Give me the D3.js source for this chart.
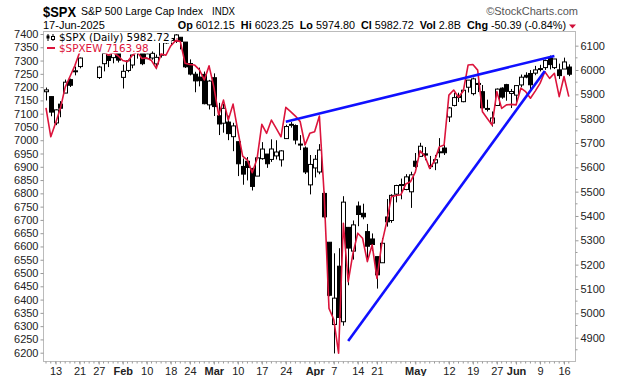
<!DOCTYPE html>
<html lang="en">
<head>
<meta charset="utf-8">
<title>$SPX daily</title>
<script src="https://cdn.jsdelivr.net/npm/d3@7"></script>
<style>
body {margin: 0; background: #fff;}
svg {display: block; font-family: "Liberation Sans", Arial, sans-serif;}
.axis text {font-size: 11px; fill: #222;}
.axis line {stroke: #999;}
</style>
</head>
<body>
<svg width="620" height="376"></svg>
<script>
// trading days, 2025
var dates = ["01-08","01-10","01-13","01-14","01-15","01-16","01-17","01-21","01-22","01-23","01-24","01-27","01-28","01-29","01-30","01-31",
  "02-03","02-04","02-05","02-06","02-07","02-10","02-11","02-12","02-13","02-14","02-18","02-19","02-20","02-21","02-24","02-25","02-26","02-27","02-28",
  "03-03","03-04","03-05","03-06","03-07","03-10","03-11","03-12","03-13","03-14","03-17","03-18","03-19","03-20","03-21","03-24","03-25","03-26","03-27","03-28","03-31",
  "04-01","04-02","04-03","04-04","04-07","04-08","04-09","04-10","04-11","04-14","04-15","04-16","04-17","04-21","04-22","04-23","04-24","04-25","04-28","04-29","04-30",
  "05-01","05-02","05-05","05-06","05-07","05-08","05-09","05-12","05-13","05-14","05-15","05-16","05-19","05-20","05-21","05-22","05-23","05-27","05-28","05-29","05-30",
  "06-02","06-03","06-04","06-05","06-06","06-09","06-10","06-11","06-12","06-13","06-16","06-17"];

var spxOpen = [5910.7,5890.7,5782.3,5859.7,5905.2,5960.4,5994.0,6014.1,6081.4,6076.3,6121.4,5969.0,6026.0,6057.7,6050.8,6096.8,
  5969.7,5998.1,6020.5,6072.2,6083.1,6046.4,6049.3,6025.1,6060.6,6115.5,6121.6,6117.8,6134.5,6114.8,6026.7,5982.7,5970.9,5981.9,5856.7,
  5968.3,5811.9,5781.4,5785.9,5726.0,5705.4,5603.7,5624.8,5594.5,5563.9,5635.6,5654.5,5632.4,5646.9,5630.7,5718.1,5775.1,5771.7,5695.6,5679.4,5527.9,
  5597.5,5580.8,5492.7,5292.1,4953.8,5193.6,4965.3,5353.2,5255.6,5441.0,5411.0,5335.8,5305.5,5232.9,5207.7,5395.9,5381.4,5489.7,5529.2,5508.9,5499.4,
  5625.1,5645.0,5655.3,5605.9,5618.1,5663.2,5679.3,5807.0,5854.3,5886.8,5869.8,5929.1,5902.9,5944.7,5910.9,5841.3,5781.9,5854.1,5925.5,5939.9,5903.7,
  5896.7,5938.6,5978.1,5985.7,5987.1,6004.6,6009.9,6049.4,6009.9,6000.6,6004.0,6012.2];
var spxHigh = [5927.9,5890.7,5838.0,5871.9,5960.6,5964.7,6014.0,6051.5,6100.8,6118.7,6128.2,6017.2,6069.3,6062.8,6086.6,6120.9,
  6022.1,6042.5,6062.9,6084.0,6101.3,6073.4,6076.3,6063.6,6116.9,6127.5,6129.6,6147.4,6134.5,6114.8,6043.7,5992.7,6009.8,5993.7,5959.4,
  5986.1,5865.1,5860.6,5812.1,5783.0,5705.4,5636.3,5642.2,5597.8,5645.3,5703.5,5654.5,5715.3,5711.2,5670.8,5775.1,5786.0,5776.3,5732.3,5685.9,5650.6,
  5650.6,5695.3,5500.4,5292.1,5246.6,5267.5,5481.3,5353.2,5381.5,5459.5,5450.4,5367.2,5328.3,5232.9,5309.6,5469.7,5489.4,5528.1,5553.7,5571.9,5581.8,
  5658.9,5700.7,5683.4,5646.8,5651.0,5720.1,5691.7,5847.0,5906.6,5906.6,5924.6,5958.6,5968.6,5953.1,5938.4,5878.1,5829.5,5924.3,5929.0,5943.1,5922.1,
  5937.4,5981.4,5990.5,5999.7,6016.9,6021.3,6043.0,6059.4,6045.4,6026.2,6050.8,6023.3];
var spxLow = [5874.8,5809.9,5773.3,5805.9,5905.2,5930.1,5978.0,6006.9,6076.1,6074.7,6088.7,5962.9,5994.3,6012.0,6027.5,6030.9,
  5923.9,5990.9,6007.1,6046.8,6019.9,6044.8,6042.3,6003.0,6051.0,6107.6,6099.5,6111.2,6084.6,6008.6,5977.8,5908.5,5932.7,5858.8,5837.7,
  5810.9,5732.6,5742.4,5711.6,5666.3,5564.0,5528.4,5546.1,5504.7,5563.9,5631.1,5597.8,5622.2,5632.3,5603.1,5718.1,5763.2,5694.4,5670.9,5572.4,5488.7,
  5558.5,5571.5,5390.8,5069.9,4835.0,4910.4,4949.0,5115.3,5220.8,5358.0,5386.4,5220.8,5255.6,5101.6,5207.7,5356.2,5371.9,5455.9,5468.6,5505.7,5433.2,
  5597.4,5644.0,5629.1,5593.0,5588.3,5640.1,5650.7,5786.1,5850.4,5868.4,5867.4,5907.4,5895.7,5909.3,5830.9,5829.5,5767.4,5854.1,5881.9,5873.8,5843.7,
  5861.4,5929.0,5966.1,5921.2,5978.6,5994.2,6000.3,6002.3,6003.9,5963.2,6004.0,5974.8];
var spxClose = [5918.3,5827.0,5836.2,5842.9,5949.9,5937.3,5996.7,6049.2,6086.4,6118.7,6101.2,6012.3,6067.7,6039.3,6071.2,6040.5,
  5994.6,6037.9,6061.5,6083.6,6026.0,6066.4,6068.5,6052.0,6115.1,6114.6,6129.6,6144.2,6117.5,6013.1,5983.3,5955.3,5956.1,5861.6,5954.5,
  5849.7,5778.2,5842.6,5738.5,5770.2,5614.6,5572.1,5599.3,5521.5,5638.9,5675.1,5614.7,5675.3,5662.9,5667.6,5767.6,5776.7,5712.2,5693.3,5580.9,5611.9,
  5633.1,5671.0,5396.5,5074.1,5062.3,4982.8,5456.9,5268.1,5363.4,5406.0,5396.6,5275.7,5282.7,5158.2,5287.8,5375.9,5484.8,5525.2,5528.8,5560.8,5569.1,
  5604.1,5686.7,5650.4,5606.9,5631.3,5663.9,5659.9,5844.2,5886.6,5892.6,5916.9,5958.4,5963.6,5940.5,5844.6,5842.0,5802.8,5921.5,5888.6,5912.2,5911.7,
  5935.9,5970.4,5970.8,5939.3,6000.4,6005.9,6038.8,6022.2,6045.3,5977.0,6033.1,5982.7];
// $SPXEW close (left scale)
var spxewClose = [7122,7013,7065,7120,7200,7240,7280,7330,7345,7370,7365,7355,7335,7320,7330,7318,
  7300,7296,7320,7333,7308,7310,7300,7271,7325,7320,7355,7375,7372,7290,7285,7283,7265,7227,7280,
  7200,7095,7151,7076,7136,7035,6940,6925,6878,6930,7060,7026,7076,7045,7013,7124,7108,7091,7070,6982,7026,
  7032,7091,6794,6367,6325,6198,6687,6467,6574,6650,6631,6543,6606,6480,6610,6690,6787,6792,6795,6835,6844,
  6880,6960,6940,6894,6922,6975,6982,7170,7189,7162,7185,7283,7285,7264,7107,7082,7057,7183,7120,7133,7135,
  7133,7196,7183,7158,7185,7214,7258,7233,7252,7164,7240,7164];

// trend lines drawn on $SPX
var upperTrend = [["03-24", 5787], ["06-12", 6058]];
var lowerTrend = [["04-10", 4886], ["06-10", 5996]];

var leftTicks = [6200,6250,6300,6350,6400,6450,6500,6550,6600,6650,6700,6750,6800,6850,6900,6950,7000,7050,7100,7150,7200,7250,7300,7350,7400];
var rightTicks = [4900,5000,5100,5200,5300,5400,5500,5600,5700,5800,5900,6000,6100];
var xTickDates = ["01-13","01-21","01-27","02-03","02-10","02-18","02-24","03-03","03-10","03-17","03-24","04-01","04-07","04-14","04-21","05-01","05-12","05-19","05-27","06-02","06-09","06-16"];
var xTickLabels = ["13","21","27","Feb","10","18","24","Mar","10","17","24","Apr","7","14","21","May","12","19","27","Jun","9","16"];
var months = ["Feb","Mar","Apr","May","Jun"];

var L = 43.5, R = 575.5, T = 31.5, B = 361.5;
var svg = d3.select("svg");

var x = d3.scalePoint().domain(dates).range([46, 568.8]);
var yR = d3.scaleLinear().domain([5000, 6000]).range([313.3, 70]);
var yL = d3.scaleLinear().domain([6200, 7400]).range([352.7, 34]);

/// titre
var head = svg.append("g");
head.append("text").attr("x", 43).attr("y", 16.5).attr("font-size", 15).attr("font-weight", "bold")
  .attr("textLength", 33).attr("lengthAdjust", "spacingAndGlyphs").text("$SPX");
head.append("text").attr("x", 81).attr("y", 15).attr("font-size", 11)
  .attr("textLength", 122).attr("lengthAdjust", "spacingAndGlyphs").text("S&P 500 Large Cap Index");
head.append("text").attr("x", 212).attr("y", 15).attr("font-size", 11)
  .attr("textLength", 23).attr("lengthAdjust", "spacingAndGlyphs").text("INDX");
head.append("text").attr("x", 578).attr("y", 15).attr("font-size", 11).attr("fill", "#555")
  .attr("text-anchor", "end").text("\u00A9StockCharts.com");
head.append("text").attr("x", 43).attr("y", 29).attr("font-size", 11).text("17-Jun-2025");
var quote = head.append("text").attr("x", 566).attr("y", 29).attr("font-size", 10.8).attr("text-anchor", "end");
[["Op", " 6012.15  "], ["Hi", " 6023.25  "], ["Lo", " 5974.80  "], ["Cl", " 5982.72  "], ["Vol", " 2.8B  "], ["Chg", " -50.39 (-0.84%)"]]
  .forEach(function(p) {
    quote.append("tspan").attr("font-weight", "bold").text(p[0]);
    quote.append("tspan").attr("xml:space", "preserve").text(p[1]);
  });
head.append("path").attr("d", "M569,24.5 L576,24.5 L572.5,28.5 Z").attr("fill", "#d0103a");

/// cadre
svg.append("rect").attr("x", L).attr("y", T).attr("width", R - L).attr("height", B - T)
  .attr("fill", "none").attr("stroke", "#bbb");

/// axes
var axL = svg.append("g").attr("class", "axis").attr("transform", "translate(" + L + ",0)")
  .call(d3.axisLeft(yL).tickValues(leftTicks).tickSize(3).tickPadding(2).tickFormat(d3.format("d")));
var axR = svg.append("g").attr("class", "axis").attr("transform", "translate(" + R + ",0)")
  .call(d3.axisRight(yR).tickValues(rightTicks).tickSize(3).tickPadding(2).tickFormat(d3.format("d")));
axR.append("g").selectAll("line").data(rightTicks).enter().append("line")
  .attr("x1", 0).attr("x2", 2).attr("y1", function(d) { return yR(d - 50); }).attr("y2", function(d) { return yR(d - 50); })
  .attr("stroke", "#bbb");
var axB = svg.append("g").attr("class", "axis").attr("transform", "translate(0," + B + ")")
  .call(d3.axisBottom(x).tickValues(xTickDates).tickSize(3).tickPadding(3)
    .tickFormat(function(d, i) { return xTickLabels[i]; }));
axB.selectAll("text").attr("font-weight", function(d, i) { return months.indexOf(xTickLabels[i]) >= 0 ? "bold" : null; })
  .attr("font-size", function(d, i) { return months.indexOf(xTickLabels[i]) >= 0 ? 12 : 11; });
axB.append("g").selectAll("line").data(dates).enter().append("line")
  .attr("x1", function(d) { return x(d); }).attr("x2", function(d) { return x(d); })
  .attr("y1", 0).attr("y2", 2).attr("stroke", "#ccc");
svg.selectAll(".axis .domain").remove();

/// zone de tracé
svg.append("clipPath").attr("id", "plot").append("rect")
  .attr("x", L).attr("y", T).attr("width", R - L).attr("height", B - T);
var g = svg.append("g").attr("clip-path", "url(#plot)");

var idx = d3.range(dates.length);
g.selectAll("line.wick").data(idx).enter().append("line").attr("class", "wick")
  .attr("x1", function(i) { return Math.round(x(dates[i])) + 0.5; })
  .attr("x2", function(i) { return Math.round(x(dates[i])) + 0.5; })
  .attr("y1", function(i) { return yR(spxHigh[i]); })
  .attr("y2", function(i) { return yR(spxLow[i]); })
  .attr("stroke", "#000").attr("stroke-width", 1);
g.selectAll("rect.body").data(idx).enter().append("rect").attr("class", "body")
  .attr("x", function(i) { return Math.round(x(dates[i])) - 1.5; })
  .attr("width", 4)
  .attr("y", function(i) { return yR(Math.max(spxOpen[i], spxClose[i])); })
  .attr("height", function(i) { return Math.max(1, Math.abs(yR(spxOpen[i]) - yR(spxClose[i]))); })
  .attr("fill", function(i) { return spxClose[i] >= spxOpen[i] ? "#fff" : "#000"; })
  .attr("stroke", "#000").attr("stroke-width", 1);

g.append("path").datum(idx)
  .attr("d", d3.line().x(function(i) { return x(dates[i]); }).y(function(i) { return yL(spxewClose[i]); }))
  .attr("fill", "none").attr("stroke", "#dc143c").attr("stroke-width", 1.6).attr("stroke-linejoin", "round");

[upperTrend, lowerTrend].forEach(function(t) {
  g.append("path").datum(t)
    .attr("d", d3.line().x(function(d) { return x(d[0]); }).y(function(d) { return yR(d[1]); }))
    .attr("stroke", "#1010ff").attr("stroke-width", 2.6).attr("fill", "none");
});

/// légende
var leg = svg.append("g").attr("font-family", "DejaVu Sans, sans-serif").attr("font-size", 10.4);
var t1 = leg.append("text").attr("x", 59).attr("y", 41).text("$SPX (Daily) 5982.72");
var t2 = leg.append("text").attr("x", 59).attr("y", 51.5).attr("fill", "#dc143c").text("$SPXEW 7163.98");
[t1, t2].forEach(function(t) {
  var b = t.node().getBBox();
  leg.insert("rect", "text").attr("x", L + 1).attr("y", b.y + 1).attr("width", b.x + b.width - L + 1).attr("height", b.height - 1)
    .attr("fill", "#fff");
});
leg.append("line").attr("x1", 48).attr("x2", 48).attr("y1", 34).attr("y2", 41).attr("stroke", "#000");
leg.append("rect").attr("x", 46.5).attr("y", 35.5).attr("width", 3).attr("height", 3).attr("fill", "#000");
leg.append("line").attr("x1", 53).attr("x2", 53).attr("y1", 34).attr("y2", 41).attr("stroke", "#000");
leg.append("rect").attr("x", 51.5).attr("y", 36.5).attr("width", 3).attr("height", 3).attr("fill", "#fff").attr("stroke", "#000");
leg.append("line").attr("x1", 47).attr("x2", 55).attr("y1", 48).attr("y2", 48).attr("stroke", "#dc143c").attr("stroke-width", 2);
leg.append("path").attr("d", "M177,38 L177,41 L180,41").attr("stroke", "#dc143c").attr("fill", "none");
</script>
</body>
</html>
